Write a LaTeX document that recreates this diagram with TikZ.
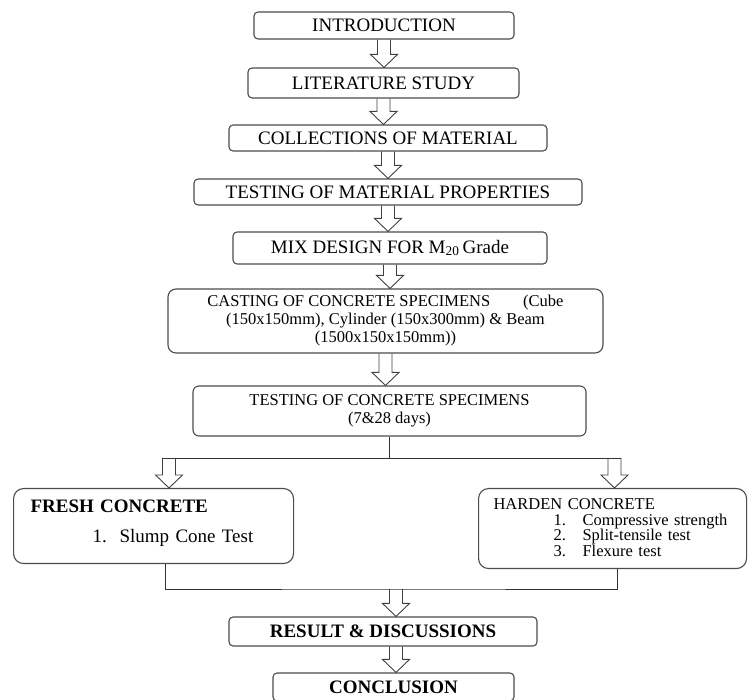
\documentclass[tikz,border=0pt]{standalone}
\usepackage{fontspec}
\setmainfont{Liberation Serif}
\usetikzlibrary{positioning, calc}
\tikzset{
  x=1pt, y=1pt,
  box/.style={
      rectangle,
      draw=black!70,
      line width=1.1pt,
      rounded corners=4pt,
      fill=white,
      inner sep=0pt,
      align=center,
      font=\fontsize{19}{22}\selectfont
    },
  bigbox/.style={
      box,
      rounded corners=10pt,
      align=left,
      inner ysep=0pt
    },
  harr/.style={
      draw=black!75,
      line width=0.9pt,
      line join=miter
    },
  line/.style={
      draw=black!80,
      line width=0.9pt
    }
}
% hollow double-line arrow, straight down from #1 to the level of #2
\newcommand{\hollowarrow}[2]{%
  \draw[harr] ($(#1)+(-6.5,0)$) -- ($(#1 |- #2)+(-6.5,13)$) -- ($(#1 |- #2)+(-13.5,13)$)
    -- (#1 |- #2) -- ($(#1 |- #2)+(13.5,13)$) -- ($(#1 |- #2)+(6.5,13)$) -- ($(#1)+(6.5,0)$);%
}

\begin{document}
\begin{tikzpicture}
  \useasboundingbox (0,0) rectangle (748,-700);
  % main column
  \node[box, minimum width=260, minimum height=27] (intro) at (384,-25.5) {INTRODUCTION};
  \node[box, minimum width=271, minimum height=30] (lit) at (383.5,-83) {LITERATURE STUDY};
  \node[box, minimum width=318, minimum height=26] (coll) at (388,-138) {COLLECTIONS OF MATERIAL};
  \node[box, minimum width=388, minimum height=26] (prop) at (388,-192) {TESTING OF MATERIAL PROPERTIES};
  \node[box, minimum width=314, minimum height=32] (mix) at (390,-248) {MIX DESIGN FOR M\textsubscript{20}\,Grade};
  \node[box, rounded corners=8pt, minimum width=435, minimum height=64, font=\fontsize{16.5}{18}\selectfont] (cast) at (385.5,-321)
    {CASTING OF CONCRETE SPECIMENS\hspace{2em}(Cube\\(150x150mm), Cylinder (150x300mm) \& Beam\\(1500x150x150mm))};
  \node[box, rounded corners=6pt, minimum width=393, minimum height=50, font=\fontsize{16.5}{18}\selectfont] (test) at (389.5,-411)
    {TESTING OF CONCRETE SPECIMENS\\(7\&28 days)};
  \hollowarrow{intro.south}{lit.north}
  \hollowarrow{lit.south}{coll.north}
  \hollowarrow{coll.south}{prop.north}
  \hollowarrow{prop.south}{mix.north}
  \hollowarrow{mix.south}{cast.north}
  \hollowarrow{cast.south}{test.north}
  % split
  \coordinate (sl) at (169,-458);
  \coordinate (sr) at (614.5,-458);
  \node[bigbox, anchor=north west, inner xsep=17pt, text width=246pt, text height=23.5pt, text depth=51.5pt] (fresh) at (13,-488)
    {\textbf{FRESH CONCRETE}\\[8pt]\hspace*{62pt}\makebox[27pt][l]{1.}Slump Cone Test};
  \node[bigbox, anchor=north west, inner xsep=15pt, text width=238pt, text height=21pt, text depth=59pt,
    font=\fontsize{16.5}{15.5}\selectfont] (harden) at (478,-488)
    {HARDEN CONCRETE\\\hspace*{60pt}\makebox[29pt][l]{1.}Compressive strength\\\hspace*{60pt}\makebox[29pt][l]{2.}Split-tensile test\\\hspace*{60pt}\makebox[29pt][l]{3.}Flexure test};
  \draw[line] (test.south) -- (test.south |- sl);
  \draw[line] ([xshift=-6.5pt]sl) -- ([xshift=6.5pt]sr);
  \hollowarrow{sl}{fresh.north}
  \hollowarrow{sr}{harden.north}
  % merge
  \coordinate (merge) at (396,-589);
  \coordinate (fout) at ([xshift=12pt]fresh.south);
  \coordinate (hout) at ([xshift=5pt]harden.south);
  \draw[line] (fout) |- (merge) -| (hout);
  \node[box, minimum width=308, minimum height=29, font=\bfseries\fontsize{19}{22}\selectfont] (result) at (383,-631.5) {RESULT \& DISCUSSIONS};
  \node[box, minimum width=241, minimum height=28, font=\bfseries\fontsize{19}{22}\selectfont] (concl) at (393.5,-687) {CONCLUSION};
  \coordinate (rout) at ([xshift=13pt]result.south);
  \hollowarrow{merge}{result.north}
  \hollowarrow{rout}{concl.north}
\end{tikzpicture}
\end{document}
